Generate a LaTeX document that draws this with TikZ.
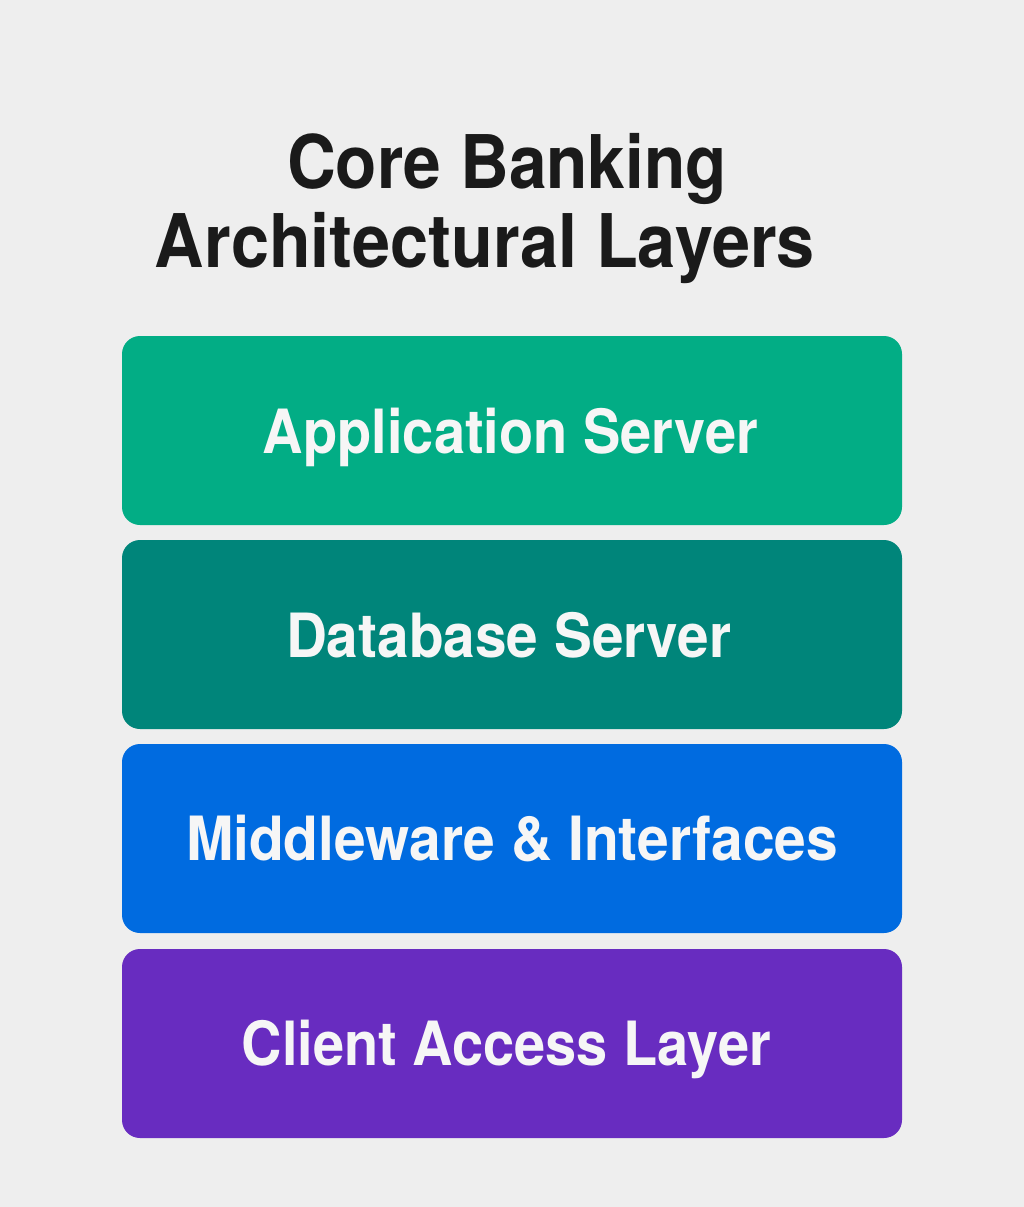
\documentclass[tikz,border=0pt]{standalone}
\usepackage{fontspec}
\usepackage{graphicx}
\setmainfont{TeX Gyre Heros}
\definecolor{bgc}{HTML}{EEEEEE}
\definecolor{titlec}{HTML}{1A1A1A}
\definecolor{appc}{HTML}{02AD85}
\definecolor{dbc}{HTML}{00857A}
\definecolor{midc}{HTML}{006BE0}
\definecolor{clic}{HTML}{682CC0}
\definecolor{txtc}{HTML}{F6F6F6}
\newcommand{\fitw}[2]{\resizebox{#1}{\height}{#2}}
\tikzset{
  layer/.style={draw=none, fill=#1, rounded corners=18pt, minimum width=780pt, minimum height=189pt, inner sep=0pt},
  layertext/.style={anchor=base, text=txtc, inner sep=0pt, font=\fontsize{61}{61}\selectfont\bfseries},
  titletext/.style={anchor=base, text=titlec, inner sep=0pt, font=\fontsize{74}{74}\selectfont\bfseries}
}
\begin{document}
\begin{tikzpicture}[x=1pt,y=-1pt]
\fill[bgc] (0,0) rectangle (1024,1207);
\useasboundingbox (0,0) rectangle (1024,1207);
\node[titletext] (t1) at (507,188) {\fitw{440pt}{Core Banking}};
\node[titletext] (t2) at (485,267) {\fitw{660pt}{Architectural Layers}};
\node[layer=appc] (b1) at (512,430.5) {};
\node[layer=dbc] (b2) at (512,634.5) {};
\node[layer=midc] (b3) at (512,838.5) {};
\node[layer=clic] (b4) at (512,1043.5) {};
\node[layertext] (l1) at (510.5,453) {\fitw{495pt}{Application Server}};
\node[layertext] (l2) at (508.5,657) {\fitw{445pt}{Database Server}};
\node[layertext] (l3) at (512,860) {\fitw{652pt}{Middleware \& Interfaces}};
\node[layertext] (l4) at (506.5,1065) {\fitw{529pt}{Client Access Layer}};
\end{tikzpicture}
\end{document}
